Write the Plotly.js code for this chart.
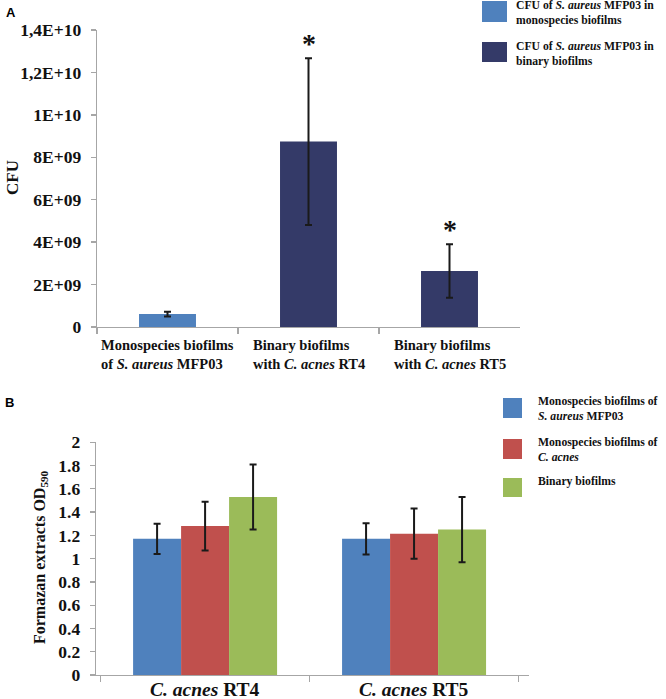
<!DOCTYPE html>
<html>
<head>
<meta charset="utf-8">
<script src="https://cdn.plot.ly/plotly-3.0.1.min.js"></script>
<style>
  html, body { margin: 0; padding: 0; background: #ffffff; }
  #chart { width: 666px; height: 699px; }
</style>
</head>
<body>
<div id="chart"></div>
<script>
// Panel A: CFU counts
const cfuCategories = ["mono", "rt4", "rt5"];
const cfuLabels = [
  "Monospecies biofilms<br>of <i>S. aureus</i> MFP03",
  "Binary biofilms<br>with <i>C. acnes</i> RT4",
  "Binary biofilms<br>with <i>C. acnes</i> RT5"
];
const cfuValues = [6.1e8, 8.74e9, 2.64e9];
const cfuErrors = [1.1e8, 3.93e9, 1.26e9];
const cfuSignificant = [false, true, true];
const cfuTickVals = [0, 2e9, 4e9, 6e9, 8e9, 1e10, 1.2e10, 1.4e10];
const cfuTickText = ["0", "2E+09", "4E+09", "6E+09", "8E+09", "1E+10", "1,2E+10", "1,4E+10"];
const cfuLegend = [
  "CFU of <i>S. aureus</i> MFP03 in<br>monospecies biofilms",
  "CFU of <i>S. aureus</i> MFP03 in<br>binary biofilms"
];

// Panel B: formazan OD590
const odCategories = ["RT4", "RT5"];
const odLabels = ["<i>C. acnes</i> RT4", "<i>C. acnes</i> RT5"];
const odMonoAureus = [1.17, 1.17];
const odMonoAureusErr = [0.13, 0.135];
const odMonoAcnes = [1.28, 1.215];
const odMonoAcnesErr = [0.21, 0.215];
const odBinary = [1.53, 1.25];
const odBinaryErr = [0.28, 0.28];
const odTickVals = [0, 0.2, 0.4, 0.6, 0.8, 1, 1.2, 1.4, 1.6, 1.8, 2];
const odTickText = ["0", "0.2", "0.4", "0.6", "0.8", "1", "1.2", "1.4", "1.6", "1.8", "2"];
const odLegend = [
  "Monospecies biofilms of<br><i>S. aureus</i> MFP03",
  "Monospecies biofilms of<br><i>C. acnes</i>",
  "Binary biofilms"
];

const W = 666, H = 699;
const px = (x) => x / W;
const py = (y) => (H - y) / H;

const serif = "Liberation Serif, Times New Roman, serif";
const axisGrey = "#a6a6a6";
const lightBlue = "#4f81bd";
const navy = "#343a68";
const odColors = ["#4f81bd", "#c0504d", "#9bbb59"];

const errStyle = (arr) => ({
  type: "data", array: arr, visible: true,
  color: "#1a1a1a", thickness: 2, width: 3.5
});

// panel A bars are narrower than the grouped bars of panel B
const cfuBarWidth = 0.404;

const traces = [
  {
    type: "bar", xaxis: "x", yaxis: "y", showlegend: false,
    width: cfuBarWidth, offset: -cfuBarWidth / 2,
    x: [cfuCategories[0]], y: [cfuValues[0]],
    error_y: errStyle([cfuErrors[0]]),
    marker: { color: lightBlue }
  },
  {
    type: "bar", xaxis: "x", yaxis: "y", showlegend: false,
    width: cfuBarWidth, offset: -cfuBarWidth / 2,
    x: cfuCategories.slice(1), y: cfuValues.slice(1),
    error_y: errStyle(cfuErrors.slice(1)),
    marker: { color: navy }
  },
  {
    type: "bar", xaxis: "x2", yaxis: "y2", showlegend: false,
    x: odCategories, y: odMonoAureus, error_y: errStyle(odMonoAureusErr),
    marker: { color: odColors[0] }
  },
  {
    type: "bar", xaxis: "x2", yaxis: "y2", showlegend: false,
    x: odCategories, y: odMonoAcnes, error_y: errStyle(odMonoAcnesErr),
    marker: { color: odColors[1] }
  },
  {
    type: "bar", xaxis: "x2", yaxis: "y2", showlegend: false,
    x: odCategories, y: odBinary, error_y: errStyle(odBinaryErr),
    marker: { color: odColors[2] }
  }
];

const labelFont = (size) => ({ family: serif, size: size, weight: "bold", color: "#111111" });

const annotations = [];
const shapes = [];

// panel letters
const letterFont = { family: "Liberation Sans, Arial, sans-serif", size: 13, weight: "bold", color: "#000" };
annotations.push({ xref: "paper", yref: "paper", x: px(4), y: py(12.5), xanchor: "left", yanchor: "middle",
  text: "A", showarrow: false, font: letterFont });
annotations.push({ xref: "paper", yref: "paper", x: px(3), y: py(402), xanchor: "left", yanchor: "middle",
  text: "B", showarrow: false, font: letterFont });

// axis titles
annotations.push({ xref: "paper", yref: "paper", x: px(13), y: py(178), xanchor: "center", yanchor: "middle",
  text: "CFU", textangle: -90, showarrow: false, font: labelFont(17) });
annotations.push({ xref: "paper", yref: "paper", x: px(40), y: py(557), xanchor: "center", yanchor: "middle",
  text: "Formazan extracts OD<sub>590</sub>", textangle: -90, showarrow: false, font: labelFont(16) });

// panel A category labels and significance stars
cfuCategories.forEach((cat, i) => {
  annotations.push({ xref: "x", yref: "paper", x: cat, y: py(335), xanchor: "center", yanchor: "top",
    align: "left", text: cfuLabels[i], showarrow: false, font: labelFont(14.5) });
  if (cfuSignificant[i]) {
    annotations.push({ xref: "x", yref: "y", x: cat, y: cfuValues[i] + cfuErrors[i], yanchor: "middle",
      yshift: 15, text: "*", showarrow: false, font: labelFont(28) });
  }
});

// panel B category labels
odCategories.forEach((cat, i) => {
  annotations.push({ xref: "x2", yref: "paper", x: cat, y: py(689), xanchor: "center", yanchor: "middle",
    text: odLabels[i], showarrow: false, font: labelFont(19.5) });
});

// legends drawn as boxes + text
const legendA = [
  { color: lightBlue, top: 1, bottom: 22 },
  { color: navy, top: 42, bottom: 62 }
];
legendA.forEach((item, i) => {
  shapes.push({ type: "rect", xref: "paper", yref: "paper", x0: px(482), x1: px(507),
    y0: py(item.bottom), y1: py(item.top), fillcolor: item.color, line: { width: 0 } });
  annotations.push({ xref: "paper", yref: "paper", x: px(514), y: py((item.top + item.bottom) / 2 + 1.5),
    xanchor: "left", yanchor: "middle", align: "left", text: cfuLegend[i], showarrow: false,
    font: labelFont(11.7) });
});

const legendB = [
  { top: 398, bottom: 418 },
  { top: 439, bottom: 459 },
  { top: 478, bottom: 497 }
];
legendB.forEach((item, i) => {
  shapes.push({ type: "rect", xref: "paper", yref: "paper", x0: px(503), x1: px(522),
    y0: py(item.bottom), y1: py(item.top), fillcolor: odColors[i], line: { width: 0 } });
  annotations.push({ xref: "paper", yref: "paper", x: px(536), y: py(item.top - 5),
    xanchor: "left", yanchor: "top", align: "left", text: odLegend[i], showarrow: false,
    font: labelFont(11.7) });
});

const yAxisCommon = {
  showline: true, linecolor: axisGrey, linewidth: 1.3,
  ticks: "outside", ticklen: 5, tickcolor: axisGrey, tickwidth: 1.3,
  ticklabelstandoff: 6,
  tickfont: { family: serif, size: 17.5, color: "#111111", weight: "bold" },
  showgrid: false, zeroline: false, fixedrange: true
};

const layout = {
  width: W,
  height: H,
  margin: { l: 0, r: 0, t: 0, b: 0 },
  paper_bgcolor: "#ffffff",
  plot_bgcolor: "#ffffff",
  barmode: "group",
  bargap: 0.311,
  bargroupgap: 0,
  showlegend: false,
  font: { family: serif, size: 16, color: "#111111", weight: "bold" },
  xaxis: {
    domain: [px(97), px(520)],
    anchor: "y",
    type: "category",
    categoryorder: "array",
    categoryarray: cfuCategories,
    range: [-0.5, 2.5],
    showline: true, linecolor: axisGrey, linewidth: 1.3,
    ticks: "outside", tickson: "boundaries", ticklen: 6, tickcolor: axisGrey, tickwidth: 1.3,
    showticklabels: false, showgrid: false, zeroline: false, fixedrange: true
  },
  yaxis: Object.assign({}, yAxisCommon, {
    domain: [py(327), py(30)],
    anchor: "x",
    range: [0, 1.4e10],
    tickvals: cfuTickVals,
    ticktext: cfuTickText
  }),
  xaxis2: {
    domain: [px(96), px(529)],
    anchor: "y2",
    type: "category",
    categoryorder: "array",
    categoryarray: odCategories,
    range: [-0.522, 1.55],
    showline: true, linecolor: axisGrey, linewidth: 1.3,
    ticks: "outside", tickson: "boundaries", ticklen: 6, tickcolor: axisGrey, tickwidth: 1.3,
    showticklabels: false, showgrid: false, zeroline: false, fixedrange: true
  },
  yaxis2: Object.assign({}, yAxisCommon, {
    domain: [py(675), py(442.3)],
    anchor: "x2",
    range: [0, 2],
    tickvals: odTickVals,
    ticktext: odTickText
  }),
  annotations: annotations,
  shapes: shapes
};

Plotly.newPlot("chart", traces, layout, { displayModeBar: false, staticPlot: true });
</script>
</body>
</html>
